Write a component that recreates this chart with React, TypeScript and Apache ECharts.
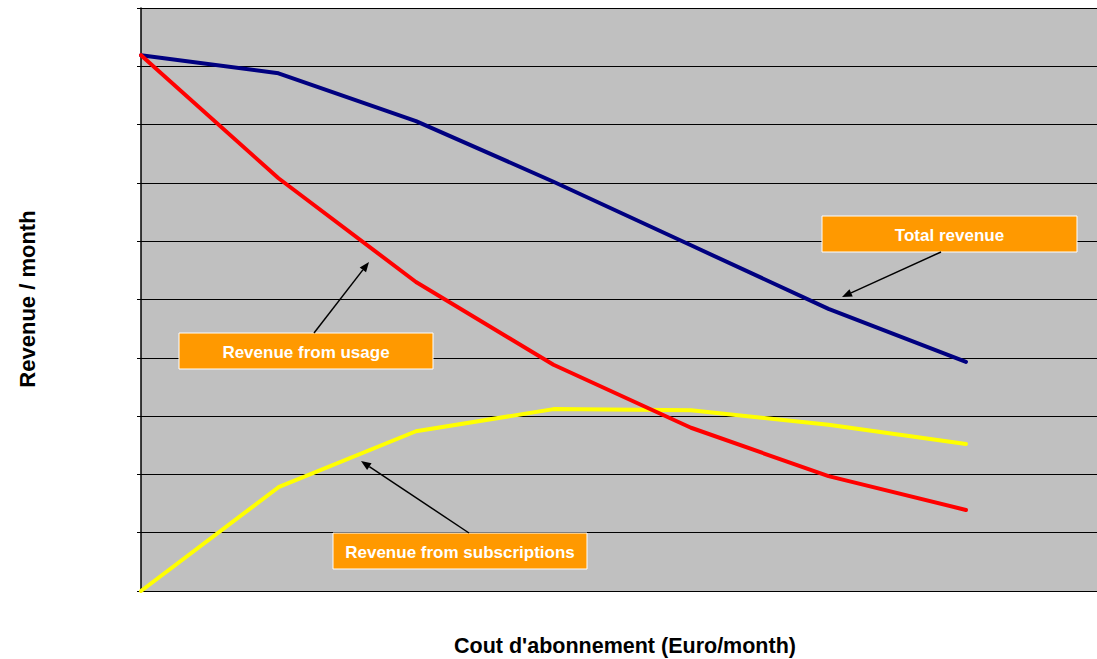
import React, { useEffect, useRef } from "react";
import * as echarts from "echarts";

const subscriptionCost = [0, 1, 2, 3, 4, 5, 6];
const totalRevenue = [9.19, 8.88, 8.06, 7.02, 5.93, 4.84, 3.93];
const usageRevenue = [9.19, 7.08, 5.3, 3.88, 2.8, 1.97, 1.39];
const subscriptionRevenue = [0, 1.78, 2.74, 3.12, 3.1, 2.85, 2.52];

const xTitle = "Cout d'abonnement (Euro/month)";
const yTitle = "Revenue / month";

const FONT = "'Liberation Sans', Arial, sans-serif";

type Note = { text: string; box: [number, number, number, number]; from: [number, number]; to: [number, number] };
const notes: Note[] = [
  { text: "Total revenue", box: [822, 216, 255, 36], from: [941, 252], to: [842, 297] },
  { text: "Revenue from usage", box: [179, 333, 254, 36], from: [314, 333], to: [369, 262] },
  { text: "Revenue from subscriptions", box: [333, 533, 254, 36], from: [469, 533], to: [361, 461] },
];

function arrow(from: [number, number], to: [number, number]) {
  const dx = to[0] - from[0];
  const dy = to[1] - from[1];
  const len = Math.sqrt(dx * dx + dy * dy);
  const ux = dx / len;
  const uy = dy / len;
  const hl = 10;
  const hw = 4;
  const bx = to[0] - ux * hl;
  const by = to[1] - uy * hl;
  return [
    {
      type: "line",
      shape: { x1: from[0], y1: from[1], x2: bx, y2: by },
      style: { stroke: "#000", lineWidth: 1.5 },
      z: 100,
    },
    {
      type: "polygon",
      shape: {
        points: [
          [to[0], to[1]],
          [bx - uy * hw, by + ux * hw],
          [bx + uy * hw, by - ux * hw],
        ],
      },
      style: { fill: "#000" },
      z: 100,
    },
  ];
}

export default function App() {
  const ref = useRef<HTMLDivElement>(null);
  useEffect(() => {
    if (!ref.current) return;
    const chart = echarts.init(ref.current, null, { renderer: "svg" });
    const mk = (vals: number[]) => subscriptionCost.map((x, i) => [x, vals[i]]);
    const graphics: any[] = [];
    notes.forEach((n) => {
      graphics.push({
        type: "rect",
        shape: { x: n.box[0], y: n.box[1], width: n.box[2], height: n.box[3] },
        style: { fill: "#ff9900", stroke: "#ffffff", lineWidth: 1 },
        z: 100,
      });
      graphics.push({
        type: "text",
        x: n.box[0] + n.box[2] / 2,
        y: n.box[1] + n.box[3] / 2 + 1,
        style: {
          text: n.text,
          fill: "#ffffff",
          font: `bold 17px ${FONT}`,
          textAlign: "center",
          textVerticalAlign: "middle",
        },
        z: 101,
      });
      graphics.push(...arrow(n.from, n.to));
    });
    graphics.push({
      type: "text",
      x: 625,
      y: 646,
      style: {
        text: xTitle,
        fill: "#000",
        font: `bold 21.5px ${FONT}`,
        textAlign: "center",
        textVerticalAlign: "middle",
      },
    });
    graphics.push({
      type: "text",
      x: 27,
      y: 299,
      rotation: Math.PI / 2,
      style: {
        text: yTitle,
        fill: "#000",
        font: `bold 22px ${FONT}`,
        textAlign: "center",
        textVerticalAlign: "middle",
      },
    });
    chart.setOption({
      animation: false,
      grid: {
        left: 141,
        top: 8,
        right: 0,
        bottom: 68,
        show: true,
        backgroundColor: "#c0c0c0",
        borderWidth: 0,
      },
      xAxis: {
        type: "value",
        min: 0,
        max: 6.953,
        axisLine: { show: false },
        axisTick: { show: false },
        axisLabel: { show: false },
        splitLine: { show: false },
      },
      yAxis: {
        type: "value",
        min: 0,
        max: 10,
        interval: 1,
        axisLine: { show: true, lineStyle: { color: "#000", width: 1.5 } },
        axisTick: { show: true, inside: false, length: 4, lineStyle: { color: "#000" } },
        axisLabel: { show: false },
        splitLine: { show: true, lineStyle: { color: "#000", width: 1 } },
      },
      series: [
        {
          name: "Total revenue",
          type: "line",
          data: mk(totalRevenue),
          showSymbol: false,
          symbol: "none",
          lineStyle: { color: "#000080", width: 4, cap: "round", join: "round" },
          z: 3,
        },
        {
          name: "Revenue from subscriptions",
          type: "line",
          data: mk(subscriptionRevenue),
          showSymbol: false,
          symbol: "none",
          lineStyle: { color: "#ffff00", width: 4, cap: "round", join: "round" },
          z: 4,
        },
        {
          name: "Revenue from usage",
          type: "line",
          data: mk(usageRevenue),
          showSymbol: false,
          symbol: "none",
          lineStyle: { color: "#ff0000", width: 4, cap: "round", join: "round" },
          z: 5,
        },
      ],
      graphic: graphics,
    });
    return () => chart.dispose();
  }, []);
  return (
    <div
      ref={ref}
      style={{ position: "fixed", left: 0, top: 0, width: 1097, height: 659, background: "#fff" }}
    />
  );
}
